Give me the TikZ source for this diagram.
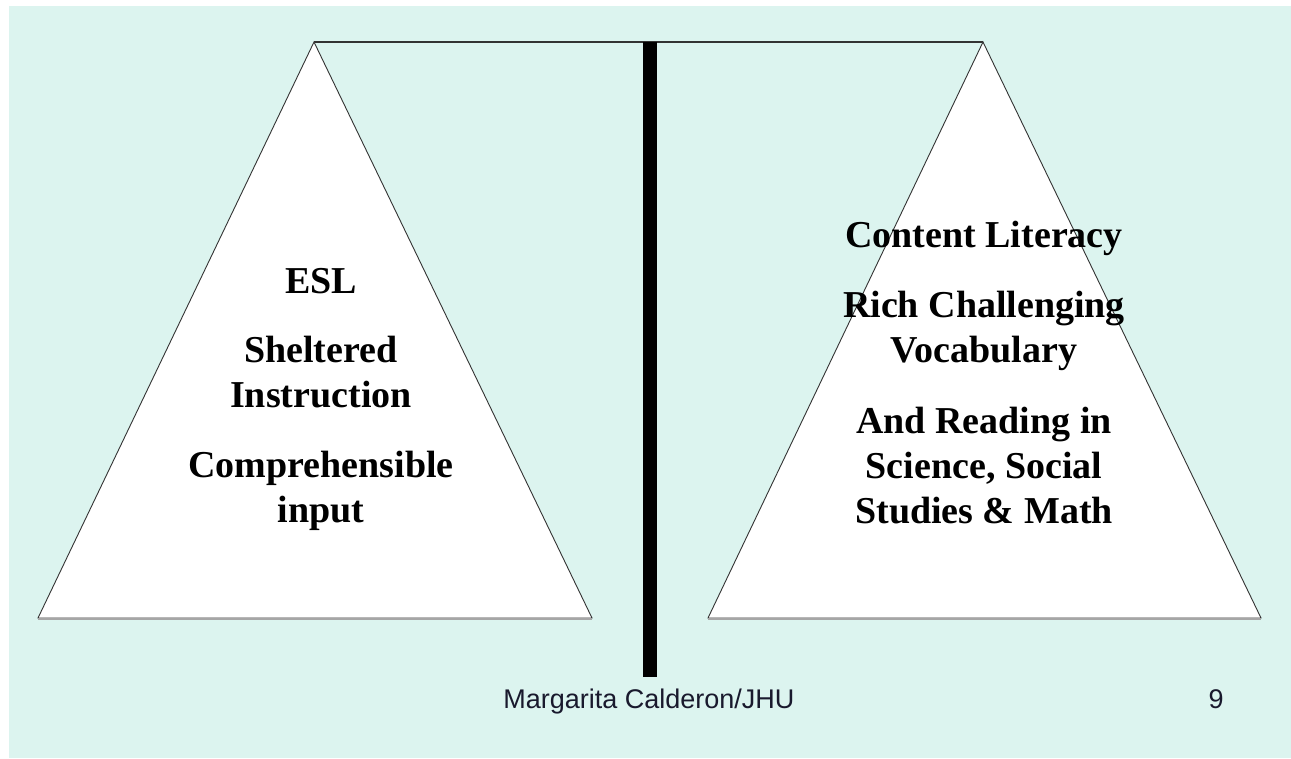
\documentclass[tikz,border=0pt]{standalone}
\usepackage{fontspec}
\setmainfont{Liberation Serif}
\newfontfamily\footfont{Liberation Sans}
\usetikzlibrary{positioning}
\definecolor{slidebg}{RGB}{220,244,239}
\definecolor{footink}{RGB}{25,25,45}

\begin{document}
\begin{tikzpicture}[x=1pt,y=-1pt,
  pan/.style={draw=black!80,fill=white,line width=0.9pt,line join=miter},
  item/.style={align=center,inner sep=0pt,anchor=base,font=\fontsize{38}{45}\selectfont\bfseries},
  foot/.style={inner sep=0pt,anchor=base,text=footink,font=\footfont\fontsize{27}{30}\selectfont}]
  \useasboundingbox (0,0) rectangle (1291,758);
  \fill[slidebg] (9,6) rectangle (1291,758);

  % beam and the two pans
  \coordinate (ltop) at (314,42);
  \coordinate (rtop) at (983,42);
  \draw[black!80,line width=1.6pt] (ltop) -- (rtop);
  \draw[pan] (ltop) -- (592,618) -- (38,618) -- cycle;
  \draw[pan] (rtop) -- (1261,618) -- (708,618) -- cycle;
  \draw[black!35,line width=1.4pt] (38,619) -- (592,619) (708,619) -- (1261,619);

  % post
  \coordinate (posttop) at (650,42);
  \coordinate (postfoot) at (650,677);
  \draw[line width=14pt] (posttop) -- (postfoot);

  % left pan (base = last line)
  \node[item] (esl) at (321,293) {ESL};
  \node[item] (sheltered) at (321,407) {Sheltered\\Instruction};
  \node[item] (input) at (321,522) {Comprehensible\\input};

  % right pan
  \node[item] (literacy) at (984,247) {Content Literacy};
  \node[item] (vocab) at (984,362) {Rich Challenging\\Vocabulary};
  \node[item] (reading) at (984,523) {And Reading in\\Science, Social\\Studies \& Math};

  \node[foot] (author) at (649,708) {Margarita Calderon/JHU};
  \node[foot] (page) at (1216,708) {9};
\end{tikzpicture}
\end{document}
